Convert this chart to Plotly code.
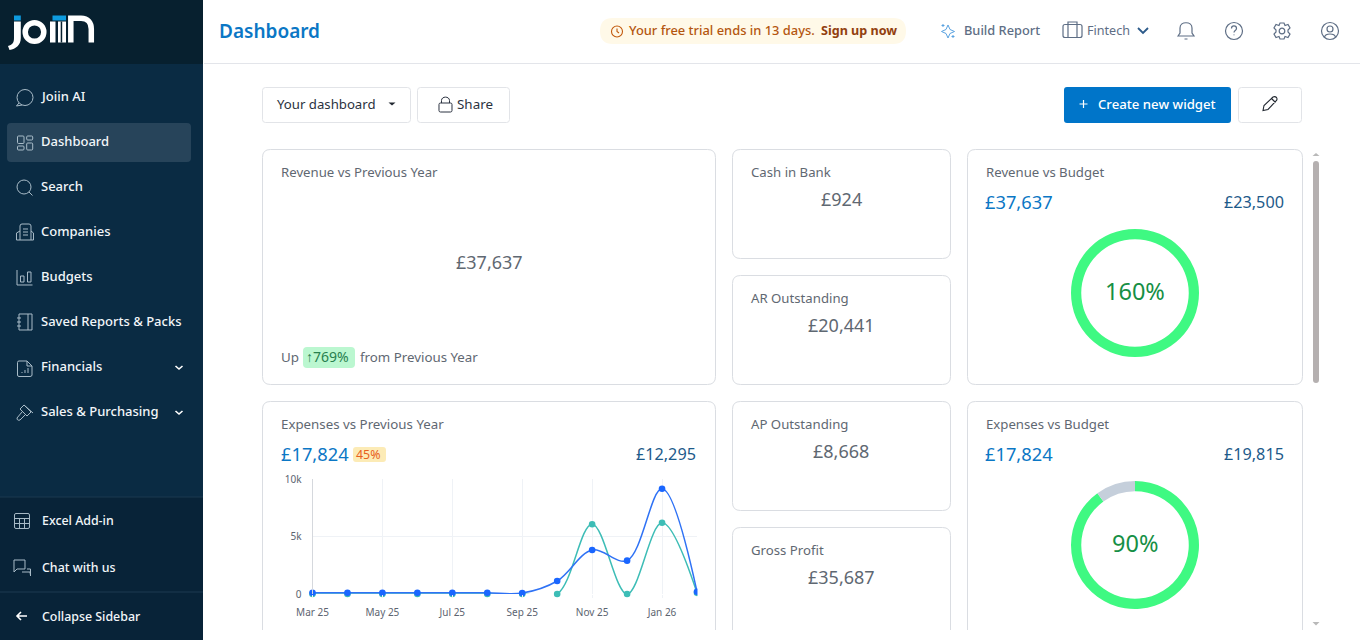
import re
import plotly.graph_objects as go

W, H = 1360, 640

# ---- chart data ----
months = ["Mar 25", "Apr 25", "May 25", "Jun 25", "Jul 25", "Aug 25", "Sep 25", "Oct 25", "Nov 25", "Dec 25", "Jan 26", "Feb 26"]
expenses_current = [100, 100, 100, 100, 100, 100, 80, 1130, 3830, 2900, 9150, 200]
expenses_previous = [0, 0, 0, 0, 0, 0, 0, 0, 6070, 0, 6190, 100]
x_ticks = ["Mar 25", "May 25", "Jul 25", "Sep 25", "Nov 25", "Jan 26"]
y_ticks = [0, 5000, 10000]
y_tick_labels = ["0", "5k", "10k"]
revenue_budget_ring = [100, 0]
expense_budget_ring = [90, 10]

FONT = "Noto Sans"
BLUE = "#0B77C5"
NAVY = "#1D5A8A"
GREY = "#5F6872"
ICON = "#A9BCC8"
HICON = "#5E6E85"
GRID = "#EFF2F6"

shapes, annos = [], []


def fx(x):
    return x / W


def fy(y):
    return 1 - y / H


def conv(path):
    out, vals = [], []
    for tok in re.findall(r"[MLCQZ]|-?\d+\.?\d*", path):
        if tok in "MLCQZ":
            out.append(tok)
        else:
            vals.append(float(tok))
            if len(vals) == 2:
                out.append(f"{fx(vals[0]):.5f},{fy(vals[1]):.5f}")
                vals = []
    return " ".join(out)


def path(d, stroke=None, w=1.0, fill=None, layer="below"):
    shapes.append(dict(type="path", xref="paper", yref="paper", path=conv(d), layer=layer,
                       fillcolor=fill or "rgba(0,0,0,0)",
                       line=dict(color=stroke or "rgba(0,0,0,0)", width=w if stroke else 0)))


def rrect_d(x0, y0, x1, y1, r):
    return (f"M{x0 + r} {y0} L{x1 - r} {y0} Q{x1} {y0} {x1} {y0 + r} L{x1} {y1 - r} Q{x1} {y1} {x1 - r} {y1} "
            f"L{x0 + r} {y1} Q{x0} {y1} {x0} {y1 - r} L{x0} {y0 + r} Q{x0} {y0} {x0 + r} {y0} Z")


def rrect(x0, y0, x1, y1, r=0, fill=None, stroke=None, w=1.0, layer="below"):
    path(rrect_d(x0, y0, x1, y1, r) if r else f"M{x0} {y0} L{x1} {y0} L{x1} {y1} L{x0} {y1} Z", stroke, w, fill, layer)


def circle(cx, cy, r, stroke=None, w=1.0, fill=None, layer="below"):
    shapes.append(dict(type="circle", xref="paper", yref="paper", layer=layer,
                       x0=fx(cx - r), x1=fx(cx + r), y0=fy(cy + r), y1=fy(cy - r),
                       fillcolor=fill or "rgba(0,0,0,0)",
                       line=dict(color=stroke or "rgba(0,0,0,0)", width=w if stroke else 0)))


def text(x, y, s, size=14, color=GREY, anchor="left", weight=400):
    annos.append(dict(xref="paper", yref="paper", x=fx(x), y=fy(y), text=s, showarrow=False,
                      xanchor=anchor, yanchor="middle", borderpad=0, borderwidth=0,
                      font=dict(family=FONT, size=size, color=color, weight=weight)))


# ---- page chrome ----
rrect(0, 0, 203, 640, fill="#0A2B43")
rrect(0, 0, 203, 64, fill="#07202F")
rrect(0, 497, 203, 640, fill="#082338")
path("M0 497 L203 497", "#1C3A50", 1)
path("M0 592 L203 592", "#1C3A50", 1)
rrect(7, 123, 191, 162, 4, fill="#27445A")
path("M204 63.5 L1360 63.5", "#E3E5EA", 1)

# logo
rrect(14, 15.5, 20.8, 20.5, fill="#0E9BDF")
rrect(52.5, 15.5, 66, 20.5, fill="#0E9BDF")
path("M14 21.5 L20.8 21.5 L20.8 38 C20.8 45 16 49 9.5 50 L8 46 C12 45 14 43 14 38 Z", fill="#FFFFFF")
circle(34.5, 32, 9.3, "#FFFFFF", 5.5)
rrect(50, 21.5, 55.5, 42.5, fill="#FFFFFF")
rrect(58, 21.5, 66, 42.5, fill="#FFFFFF")
rrect(60.7, 21.5, 62.2, 42.5, fill="#07202F")
path("M70.8 42.5 L70.8 18.3 L81 18.3 C88 18.3 91.3 23 91.3 29 L91.3 42.5", "#FFFFFF", 5.5)

# sidebar items
side_items = [("Joiin AI", 96), ("Dashboard", 141), ("Search", 186), ("Companies", 231), ("Budgets", 276),
              ("Saved Reports & Packs", 321), ("Financials", 366), ("Sales & Purchasing", 411)]
for lab, y in side_items:
    text(41, y, lab, 13, "#F2F6F9", weight=500)
for lab, y in [("Excel Add-in", 520), ("Chat with us", 567), ("Collapse Sidebar", 616)]:
    text(42, y, lab, 12.4, "#F2F6F9", weight=500)
for y in (367.5, 412.5):
    path(f"M175.5 {y - 1.5} L179 {y + 1.5} L182.5 {y - 1.5}", "#FFFFFF", 1.6)

# sidebar icons
circle(25, 97.5, 8, ICON)
path("M19 103 L16.5 106 L22 105", ICON)
for r in [(17.5, 136, 24, 143.5), (26.7, 136, 32.7, 140), (17.5, 146, 24, 150), (26.7, 143, 32.7, 150)]:
    rrect(*r, 1, stroke=ICON)
circle(24, 187, 7, ICON)
path("M29 192 L32.5 195.5", ICON)
path("M20 240 L20 226 Q20 224 22 224 L29 224 Q31 224 31 226 L31 240 M20 231 L16.5 233 L16.5 240 L33.5 240 L33.5 233 L31 231 "
     "M23 229 L28 229 M23 232 L28 232 M23 235 L28 235", ICON)
path("M17 270 L17 285 L32.5 285 M20.5 276 L24 276 L24 282 L20.5 282 Z M27.5 272 L31 272 L31 282 L27.5 282 Z", ICON)
path("M19 314 L32 314 L32 330 L19 330 Z M28 314 L28 330 M17 318 L21 318 M17 322 L21 322 M17 326 L21 326", ICON)
path("M19 361 L27 361 L32 366 L32 375 Q32 376.5 30 376.5 L19 376.5 Q17.5 376.5 17.5 375 L17.5 362.5 Q17.5 361 19 361 Z "
     "M27 361 L27 366 L32 366 M22 373 L22 372 M25 373 L25 370 M28 373 L28 368", ICON)
path("M24 405 L31 412 L27 416 L20 409 Z M22 412 L17 418 Q17 421 20 420 L25 415 M24 405 L33 413", ICON)
rrect(14.5, 513.5, 29.5, 528.5, 1.5, stroke=ICON)
path("M14.5 518.5 L29.5 518.5 M14.5 523.5 L29.5 523.5 M19.5 518.5 L19.5 528.5 M24.5 518.5 L24.5 528.5", ICON)
path("M14 560 L25 560 L25 569 L17 569 L14 572 Z M22 572 L30 572 L30.5 575.5 M27 569 L30.5 569 L30.5 576", ICON)
path("M17 616 L27 616 M21 612 L17 616 L21 620", "#FFFFFF", 1.6)

# header
text(219, 31, "Dashboard", 19, BLUE, weight=600)
rrect(600, 18, 906, 44, 13, fill="#FFF9E8")
circle(617, 31.5, 5.5, "#C2590C", 1.1)
path("M617 28.5 L617 31.5 L619 33", "#C2590C", 1.1)
text(629, 30.5, "Your free trial ends in 13 days.", 12.9, "#B4560F", weight=500)
text(821, 30.5, "Sign up now", 12.6, "#92400E", weight=700)
path("M948 25 L950 29.5 L954.5 31.5 L950 33.5 L948 38 L946 33.5 L941.5 31.5 L946 29.5 Z M943 24 L943 27 M941.5 25.5 L944.5 25.5 "
     "M953 35 L953 38 M951.5 36.5 L954.5 36.5", "#5AA2E0", 1)
text(964, 30.5, "Build Report", 12.8, HICON, weight=500)
rrect(1063, 24.5, 1082, 37.5, 2, stroke=HICON, w=1.2)
path("M1068 24.5 L1068 37.5 M1077 24.5 L1077 37.5 M1068 24.5 L1068 22 L1077 22 L1077 24.5", HICON, 1.2)
text(1087, 30.5, "Fintech", 12.6, HICON)
path("M1138 28 L1143 33 L1148 28", "#2C5A8A", 1.8)
path("M1178 36 L1180 33 L1180 28 C1180 21 1192 21 1192 28 L1192 33 L1194 36 Z M1184.5 39 L1187.5 39", HICON, 1.2)
circle(1234, 31, 8.5, HICON, 1.2)
path("M1231.5 28.5 C1231.5 25 1236.5 25 1236.5 28.5 C1236.5 30.5 1234 30.5 1234 32.5 M1234 34.5 L1234 35.2", HICON, 1.2)
circle(1282, 31, 2.8, HICON, 1.2)
path("M1280 23 L1284 23 L1285 25.5 L1288 24.5 L1290 28 L1288 30 L1288 32 L1290 34 L1288 37.5 L1285 36.5 L1284 39 L1280 39 "
     "L1279 36.5 L1276 37.5 L1274 34 L1276 32 L1276 30 L1274 28 L1276 24.5 L1279 25.5 Z", HICON, 1.2)
circle(1330, 31, 8.5, HICON, 1.2)
circle(1330, 29, 3, HICON, 1.2)
path("M1324.5 37 C1325.5 33 1334.5 33 1335.5 37", HICON, 1.2)

# toolbar
BOX = "#E2E4E8"
rrect(262.5, 87.5, 410.5, 122.5, 3, fill="#FFFFFF", stroke=BOX)
text(277, 104, "Your dashboard", 13.2, "#2B3240")
path("M388.5 102.5 L395.5 102.5 L392 105.5 Z", fill="#222831")
rrect(417.5, 87.5, 509.5, 122.5, 3, fill="#FFFFFF", stroke=BOX)
rrect(439, 103, 452, 112, 1.5, stroke="#2B3240")
path("M441.5 103 L441.5 100.5 C441.5 96 449.5 96 449.5 100.5 L449.5 103", "#2B3240")
text(457, 104, "Share", 13.4, "#2B3240")
rrect(1064, 87, 1231, 123, 3, fill="#0075C9")
path("M1079.5 104 L1087.5 104 M1083.5 100 L1083.5 108", "#FFFFFF", 1.2)
text(1098, 104, "Create new widget", 13.2, "#FFFFFF", weight=500)
rrect(1238.5, 87.5, 1301.5, 122.5, 3, fill="#FFFFFF", stroke=BOX)
path("M1263 110.5 L1264 105.5 L1273 97 Q1275 96 1276.5 97.5 Q1277.5 99 1276.5 100.5 L1268 109.5 Z M1271.5 98.5 L1275.5 102.5", "#222831", 1.1)

# cards
CARD = "#DADDE2"
for x0, y0, x1, y1 in [(262.5, 149.5, 715.5, 384.5), (732.5, 149.5, 950.5, 258.5), (732.5, 275.5, 950.5, 384.5),
                       (967.5, 149.5, 1302.5, 384.5), (262.5, 401.5, 715.5, 660), (732.5, 401.5, 950.5, 510.5),
                       (732.5, 527.5, 950.5, 660), (967.5, 401.5, 1302.5, 660)]:
    rrect(x0, y0, x1, y1, 8, fill="#FFFFFF", stroke=CARD)
rrect(204, 630, 1310, 640, fill="#FFFFFF")

# scrollbar
rrect(1313, 161, 1319, 383, 3, fill="#B5B0B0")
path("M1312.5 156 L1319.5 156 L1316 153 Z", fill="#B9B9B9")
path("M1312.5 622 L1319.5 622 L1316 625.5 Z", fill="#B9B9B9")

# card texts
text(281, 171.7, "Revenue vs Previous Year", 13.2)
text(489, 262, "£37,637", 18, GREY, "center")
text(281, 356.7, "Up", 13.4)
rrect(303, 347, 355, 368, 4, fill="#BBF7D0")
text(306, 356.5, "↑769%", 14, "#27804E")
text(360, 356.7, "from Previous Year", 13.3)

for x, y, lab, val in [(750.5, 171.7, "Cash in Bank", "£924"), (750.5, 297.7, "AR Outstanding", "£20,441"),
                       (750.5, 423.7, "AP Outstanding", "£8,668"), (750.5, 549.7, "Gross Profit", "£35,687")]:
    text(x, y, lab, 13.2)
    text(841, y + 27.5, val, 18, GREY, "center")

text(985.5, 171.7, "Revenue vs Budget", 13.2)
text(985, 201, "£37,637", 18.3, BLUE)
text(1284, 201.5, "£23,500", 16.2, NAVY, "right")
text(1135, 291, "160%", 23.5, "#168F45", "center")

text(281, 423.7, "Expenses vs Previous Year", 13.3)
text(281, 453, "£17,824", 18.3, BLUE)
rrect(353, 447, 386, 462, 3, fill="#FCEBB6")
text(356, 454, "45%", 12.4, "#E8601C")
text(696.5, 453.5, "£12,295", 16.2, NAVY, "right")

text(985.5, 423.7, "Expenses vs Budget", 13.2)
text(985, 453, "£17,824", 18.3, BLUE)
text(1284, 453.5, "£19,815", 16.2, NAVY, "right")
text(1135, 542.5, "90%", 23.5, "#168F45", "center")

# mask that stops the last markers at the right edge of the plot
rrect(697.5, 470, 706, 600, fill="#FFFFFF", layer="above")

fig = go.Figure()
fig.add_trace(go.Scatter(x=months, y=expenses_previous, mode="lines+markers", cliponaxis=False,
                         line=dict(color="#3DBDB6", width=1.5, shape="spline", smoothing=1),
                         marker=dict(color="#3DBDB6", size=6.6), hoverinfo="skip", showlegend=False))
fig.add_trace(go.Scatter(x=months, y=expenses_current, mode="lines+markers", cliponaxis=False,
                         line=dict(color="#2F72F5", width=1.5, shape="spline", smoothing=1),
                         marker=dict(color="#1A66FF", size=6.6), hoverinfo="skip", showlegend=False))
for vals, top in ((revenue_budget_ring, 229), (expense_budget_ring, 481)):
    fig.add_trace(go.Pie(values=vals, hole=0.84, sort=False, direction="clockwise", rotation=0,
                         marker=dict(colors=["#3FF982", "#C5CFDB"], line=dict(width=0)),
                         textinfo="none", hoverinfo="skip", showlegend=False,
                         domain=dict(x=[fx(1071), fx(1199)], y=[fy(top + 128), fy(top)])))

fig.update_layout(
    template="none",
    width=W, height=H, margin=dict(l=0, r=0, t=0, b=0, pad=0), autosize=False,
    paper_bgcolor="#FFFFFF", plot_bgcolor="rgba(0,0,0,0)", shapes=shapes, annotations=annos,
    font=dict(family=FONT),
    xaxis=dict(automargin=False, domain=[fx(312.5), fx(697)], type="category", categoryorder="array", categoryarray=months,
               range=[0, 11], tickmode="array", tickvals=x_ticks, ticktext=x_ticks, showgrid=True,
               gridcolor=GRID, gridwidth=1, zeroline=False, showline=False, ticks="outside", ticklen=3,
               tickcolor=GRID, tickwidth=1, ticklabelstandoff=6,
               tickfont=dict(family=FONT, size=10, color="#5C6470")),
    yaxis=dict(automargin=False, domain=[fy(594), fy(479)], range=[0, 10000], tickmode="array", tickvals=y_ticks,
               ticktext=y_tick_labels, showgrid=True, gridcolor=GRID, gridwidth=1, zeroline=False,
               showline=True, linecolor="#D5D8DD", linewidth=1, ticks="", ticklabelstandoff=8,
               tickfont=dict(family=FONT, size=10, color="#5C6470")),
)
fig.write_html("out.html", config=dict(displayModeBar=False, staticPlot=True),
               post_script="document.body.style.margin='0';document.body.style.overflow='hidden';")
